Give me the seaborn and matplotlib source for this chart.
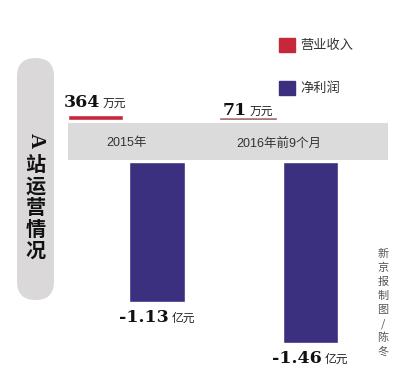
import pandas as pd
import matplotlib
matplotlib.use('Agg')
import matplotlib.pyplot as plt
import seaborn as sns
from matplotlib.patches import FancyBboxPatch, Rectangle, Patch
from matplotlib.offsetbox import TextArea, HPacker, AnnotationBbox

sns.set_style('white')
plt.rcParams['font.family'] = ['Noto Sans CJK SC', 'DejaVu Sans']

# 数据
periods = ['2015年', '2016年前9个月']
metrics = ['营业收入', '净利润']
revenue = [364, 71]            # 万元
net_profit = [-1.13, -1.46]    # 亿元
rev_labels = ['364', '71']
profit_labels = ['-1.13', '-1.46']

RED = '#C6283A'
BLUE = '#3B2F80'

df = pd.DataFrame({
    'period': periods * 2,
    'metric': [metrics[0]] * 2 + [metrics[1]] * 2,
    'value': revenue + [v * 10000 for v in net_profit],  # 统一成万元
})

fig = plt.figure(figsize=(4, 3.74), dpi=100)
fig.patch.set_facecolor('white')

# 背景装饰层（像素坐标）
bg = fig.add_axes([0, 0, 1, 1], zorder=0)
bg.set_xlim(0, 400)
bg.set_ylim(374, 0)
bg.axis('off')
bg.add_patch(FancyBboxPatch((35.5, 76.5), 0.01, 205, boxstyle='round,pad=18.5,rounding_size=18.5',
                            fc='#DAD8D8', ec='none'))
bg.add_patch(Rectangle((68, 123), 320, 37, fc='#DCDBDB', ec='none'))

# 标题竖排
title_font = ['Liberation Serif', 'Noto Sans CJK SC']
bg.text(35.5, 141, 'A', rotation=-90, ha='center', va='center', fontsize=15,
        fontweight='bold', family=title_font, color='#111111')
for i, ch in enumerate('站运营情况'):
    bg.text(35.5, 166 + i * 21.5, ch, ha='center', va='center', fontsize=14.5,
            fontweight='bold', family=title_font, color='#111111')

# 署名竖排
for i, ch in enumerate('新京报制图/陈冬'):
    bg.text(383, 254 + i * 14, ch, ha='center', va='center', fontsize=8,
            color='#555555')

xlim = (-0.824, 1.79)

# 上半部分：营业收入
ax_top = fig.add_axes([0, (374 - 120) / 374, 1, 120 / 374], zorder=1)
sns.barplot(data=df, x='period', y='value', hue='metric', hue_order=metrics,
            palette=[RED, BLUE], width=0.81, gap=0.11, saturation=1,
            legend=False, ax=ax_top)
ax_top.set_ylim(0, 8700)
ax_top.set_xlim(*xlim)

# 下半部分：净利润
ax_bot = fig.add_axes([0, 0, 1, 212 / 374], zorder=1)
sns.barplot(data=df, x='period', y='value', hue='metric', hue_order=metrics,
            palette=[RED, BLUE], width=0.81, gap=0.11, saturation=1,
            legend=False, ax=ax_bot)
ax_bot.set_ylim(-17100, 0)
ax_bot.set_xlim(*xlim)

for ax in (ax_top, ax_bot):
    ax.patch.set_alpha(0)
    ax.set_xlabel('')
    ax.set_ylabel('')
    ax.set_yticks([])
    sns.despine(ax=ax, left=True, bottom=True)

ax_top.set_xticks([])
ax_bot.xaxis.tick_top()
ax_bot.tick_params(axis='x', length=0, pad=9, labelsize=9, labelcolor='#333333')
for t in ax_bot.get_xticklabels():
    t.set_family(['Liberation Sans', 'Noto Sans CJK SC'])

# 2016 年那条细线：颜色偏浅，加描边保证可见
thin = ax_top.containers[0][1]
thin.set_facecolor('#A9787A')
thin.set_edgecolor('#A9787A')
thin.set_linewidth(1.2)


def value_label(ax, x, y, num, unit, dy):
    num_box = TextArea(num, textprops=dict(fontsize=12.5, fontweight='bold',
                                           family='DejaVu Serif', color='#111111'))
    unit_box = TextArea(unit, textprops=dict(fontsize=8.5, color='#222222'))
    box = HPacker(children=[num_box, unit_box], align='baseline', pad=0, sep=2)
    ab = AnnotationBbox(box, (x, y), xybox=(0, dy), xycoords='data',
                        boxcoords='offset points', frameon=False)
    ab.set_clip_on(False)
    ax.add_artist(ab)


for bar, lab, dy in zip(ax_top.containers[0], rev_labels, [9, 6]):
    value_label(ax_top, bar.get_x() + bar.get_width() / 2, bar.get_height(),
                lab, '万元', dy)
for bar, lab in zip(ax_bot.containers[1], profit_labels):
    value_label(ax_bot, bar.get_x() + bar.get_width() / 2, bar.get_height(),
                lab, '亿元', -11)

# 图例
handles = [Patch(color=RED), Patch(color=BLUE)]
fig.legend(handles, metrics, loc='upper left', bbox_to_anchor=(279 / 400, 1 - 38 / 374),
           frameon=False, borderpad=0, borderaxespad=0, handlelength=1.2,
           handleheight=1.2, handletextpad=0.4, labelspacing=2.2,
           prop={'size': 9.5}, labelcolor='#333333')

fig.savefig('out.png', dpi=100)
